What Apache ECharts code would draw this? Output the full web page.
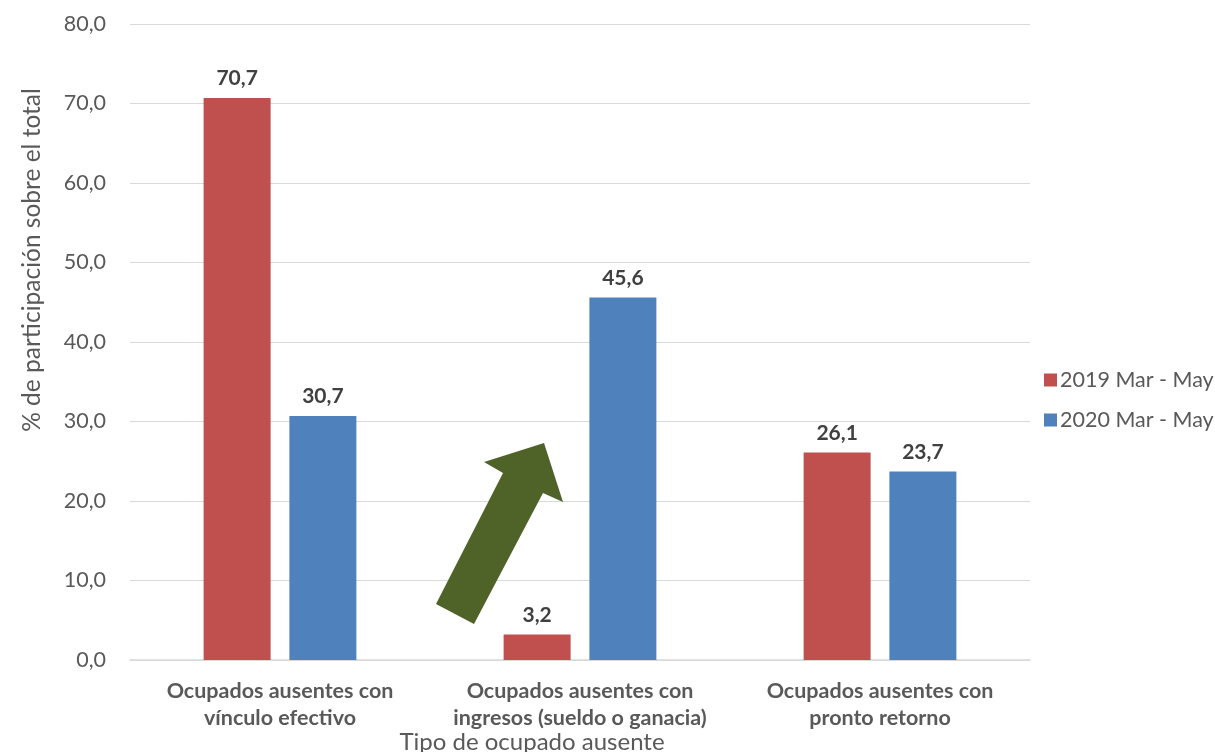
<!DOCTYPE html>
<html>
<head>
<meta charset="utf-8">
<script src="https://cdn.jsdelivr.net/npm/echarts@6/dist/echarts.min.js"></script>
<style>html,body{margin:0;padding:0;background:#fff}#c{width:1215px;height:752px}</style>
</head>
<body>
<div id="c"></div>
<script>
var categories = ['Ocupados ausentes con\nvínculo efectivo', 'Ocupados ausentes con\ningresos (sueldo o ganacia)', 'Ocupados ausentes con\npronto retorno'];
var seriesNames = ['2019 Mar - May', '2020 Mar - May'];
var values2019 = [70.7, 3.2, 26.1];
var values2020 = [30.7, 45.6, 23.7];
var yTitle = '% de participación sobre el total';
var xTitle = 'Tipo de ocupado ausente';

var FONT = 'Lato, "Open Sans", sans-serif';
function fmt(v){ return Number(v).toFixed(1).replace('.', ','); }

var chart = echarts.init(document.getElementById('c'));
var labelStyle = {
  show: true, position: 'top', distance: 9,
  fontFamily: FONT, fontWeight: 'bold', fontSize: 21, color: '#404040',
  formatter: function(p){ return fmt(p.value); }
};
chart.setOption({
  animation: false,
  backgroundColor: '#fff',
  grid: { left: 130, right: 185, top: 24, bottom: 92 },
  legend: {
    orient: 'vertical', left: 1039, top: 364,
    itemWidth: 13, itemHeight: 13, itemGap: 18, icon: 'rect',
    textStyle: { fontFamily: FONT, fontSize: 21.5, color: '#595959', padding: [0,0,0,-2] },
    data: seriesNames
  },
  xAxis: {
    type: 'category', data: categories,
    axisTick: { show: false },
    axisLine: { lineStyle: { color: '#d9d9d9', width: 1.5 } },
    axisLabel: { fontFamily: FONT, fontWeight: 'bold', fontSize: 21.5, color: '#595959', margin: 18, lineHeight: 27, interval: 0 }
  },
  yAxis: {
    type: 'value', min: 0, max: 80, interval: 10,
    axisLine: { show: false }, axisTick: { show: false },
    axisLabel: { fontFamily: FONT, fontSize: 21.5, color: '#595959', margin: 24, formatter: fmt },
    splitLine: { lineStyle: { color: '#d9d9d9', width: 1.2 } }
  },
  series: [
    { name: seriesNames[0], type: 'bar', data: values2019, barWidth: 67, barGap: '28%',
      itemStyle: { color: '#C0504D' }, label: labelStyle },
    { name: seriesNames[1], type: 'bar', data: values2020, barWidth: 67,
      itemStyle: { color: '#4F81BD' }, label: labelStyle }
  ],
  graphic: [
    { type: 'polygon', z: 100,
      shape: { points: [[436,604],[503,473],[484,462],[544,443],[563,502],[543,493],[474,624]] },
      style: { fill: '#4F6228' } },
    { type: 'text', z: 100, x: 532, y: 742, style: {
      text: xTitle, align: 'center', verticalAlign: 'middle',
      font: '24px ' + FONT, fill: '#595959' } },
    { type: 'text', z: 100, x: 32, y: 260, rotation: Math.PI / 2, style: {
      text: yTitle, align: 'center', verticalAlign: 'middle',
      font: '24.5px ' + FONT, fill: '#595959' } }
  ]
});
</script>
</body>
</html>
